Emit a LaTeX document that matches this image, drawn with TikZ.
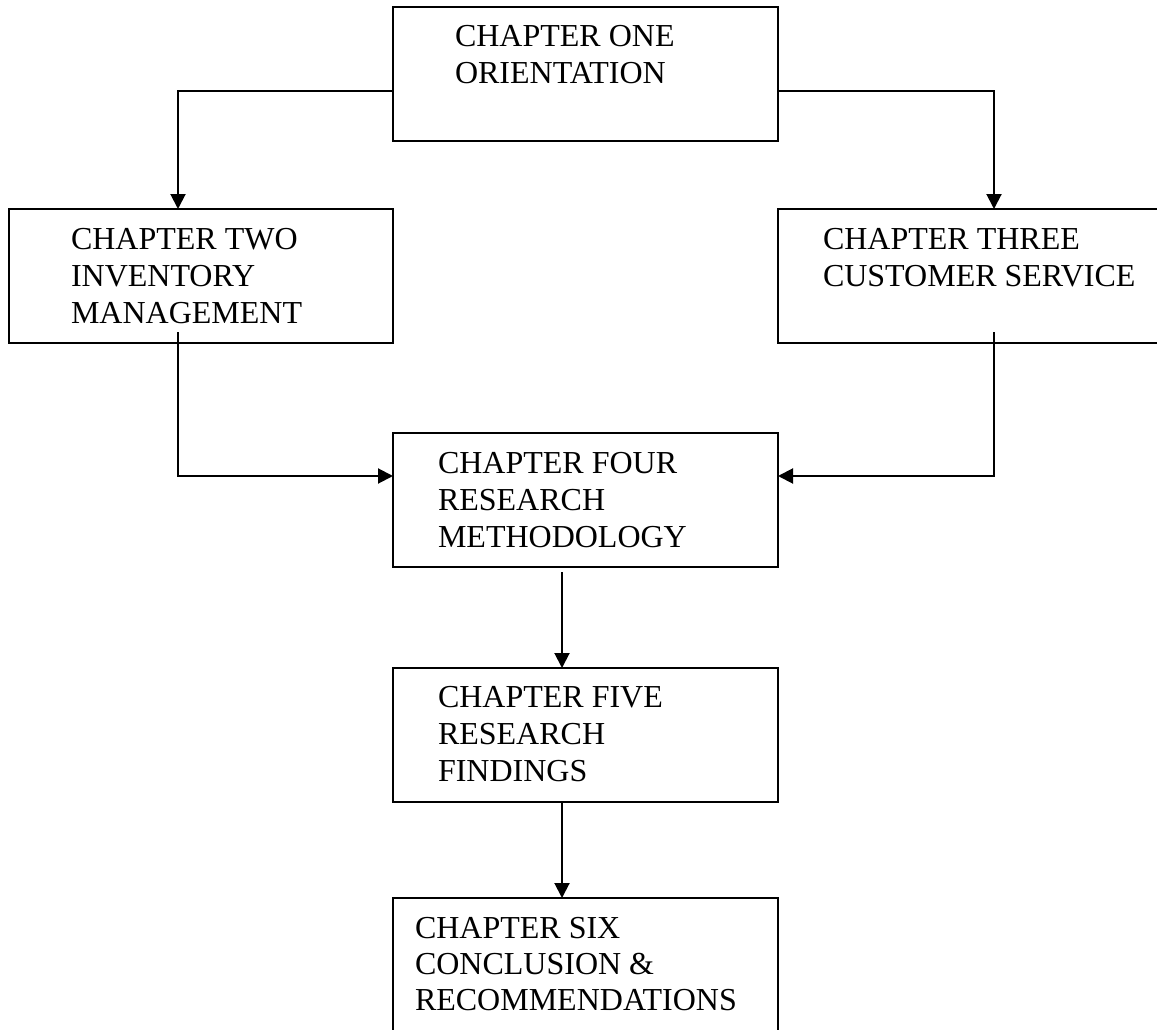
\documentclass[tikz,border=0pt]{standalone}
\usepackage{fontspec}
\setmainfont{Liberation Serif}
\usetikzlibrary{arrows.meta}
\begin{document}
\begin{tikzpicture}[x=1pt,y=-1pt,
  box/.style={draw=black, line width=2pt, rectangle, inner sep=0pt, outer sep=0pt},
  lbl/.style={anchor=base west, inner sep=0pt, outer sep=0pt, font=\fontsize{32}{37}\selectfont},
  conn/.style={draw=black, line width=2pt, -{Triangle[length=15pt,width=15pt]}}]
\clip (0,0) rectangle (1157,1030);
% boxes
\node[box, minimum width=385pt, minimum height=134pt] (one)   at (585.5,74)  {};
\node[box, minimum width=384pt, minimum height=134pt] (two)   at (201,276)   {};
\node[box, minimum width=392pt, minimum height=134pt] (three) at (974,276)   {};
\node[box, minimum width=385pt, minimum height=134pt] (four)  at (585.5,500) {};
\node[box, minimum width=385pt, minimum height=134pt] (five)  at (585.5,735) {};
\node[box, minimum width=385pt, minimum height=162pt] (six)   at (585.5,979) {};
% texts
\node[lbl] (t1a) at (455,47)  {CHAPTER ONE};
\node[lbl] (t1b) at (455,84)  {ORIENTATION};
\node[lbl] (t2a) at (71,249)  {CHAPTER TWO};
\node[lbl] (t2b) at (71,286)  {INVENTORY};
\node[lbl] (t2c) at (71,323)  {MANAGEMENT};
\node[lbl] (t3a) at (823,249) {CHAPTER THREE};
\node[lbl] (t3b) at (823,286) {CUSTOMER SERVICE};
\node[lbl] (t4a) at (438,473) {CHAPTER FOUR};
\node[lbl] (t4b) at (438,510) {RESEARCH};
\node[lbl] (t4c) at (438,547) {METHODOLOGY};
\node[lbl] (t5a) at (438,707) {CHAPTER FIVE};
\node[lbl] (t5b) at (438,744) {RESEARCH};
\node[lbl] (t5c) at (438,781) {FINDINGS};
\node[lbl] (t6a) at (415,938) {CHAPTER SIX};
\node[lbl] (t6b) at (415,974) {CONCLUSION \&};
\node[lbl] (t6c) at (415,1010) {RECOMMENDATIONS};
% helper coordinates
\coordinate (xl) at (178,0);
\coordinate (xr) at (994,0);
\coordinate (xm) at (562,0);
\coordinate (s2) at (178,332);
\coordinate (s3) at (994,332);
\coordinate (s4) at (562,572);
% connectors
\draw[conn] ([yshift=-17pt]one.west) -| (two.north -| xl);
\draw[conn] ([yshift=-17pt]one.east) -| (three.north -| xr);
\draw[conn] (s2) |- ([yshift=24pt]four.west);
\draw[conn] (s3) |- ([yshift=24pt]four.east);
\draw[conn] (s4) -- (five.north -| xm);
\draw[conn] (five.south -| xm) -- (six.north -| xm);
\end{tikzpicture}
\end{document}
